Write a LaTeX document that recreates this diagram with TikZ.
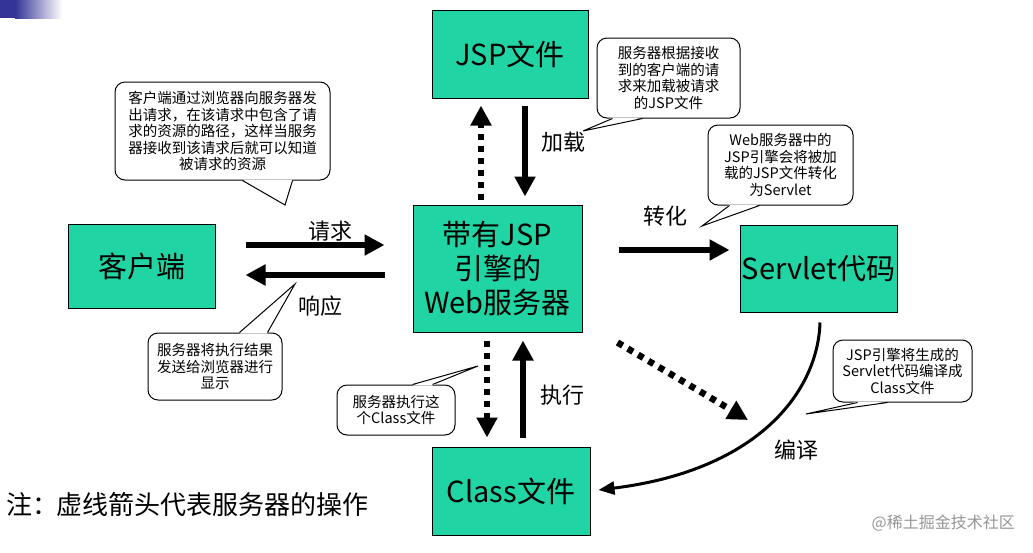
\documentclass[tikz,border=0pt]{standalone}
\usepackage{fontspec}
\setmainfont{Noto Sans CJK SC}
\usetikzlibrary{arrows.meta,calc}
\definecolor{boxgreen}{RGB}{33,212,163}
\definecolor{barblue}{RGB}{52,52,150}
\definecolor{wmgray}{RGB}{150,150,150}
\begin{document}
\begin{tikzpicture}[x=1pt,y=-1pt,
  box/.style={draw=black, line width=1pt, fill=boxgreen, align=center,
    font=\fontsize{29}{34}\selectfont, inner sep=0pt},
  note/.style={draw=black, line width=1pt, fill=white, rounded corners=10pt,
    align=center, font=\fontsize{14.5}{16.5}\selectfont, inner sep=0pt},
  lbl/.style={font=\fontsize{22}{26}\selectfont, inner sep=0pt},
  bigarrow/.style={line width=6.5pt, -{Triangle[length=20pt,width=20pt]}},
  dotarrow/.style={bigarrow, dash pattern=on 6pt off 6pt},
  thinarrow/.style={line width=3pt, -{Triangle[length=16pt,width=13pt]}},
  ptr/.style={draw=black, line width=1pt}
]
\useasboundingbox (0,0) rectangle (1033,552);
\fill[white] (0,0) rectangle (1033,552);
% top-left bar
\fill[barblue] (0,0) rectangle (15,18);
\shade[left color=barblue, right color=white] (15,0) rectangle (62,18);

% boxes
\node[box, minimum width=156pt, minimum height=88pt] (jsp) at (510,54) {JSP文件};
\node[box, minimum width=147pt, minimum height=84pt] (client) at (141.5,266) {客户端};
\node[box, minimum width=169pt, minimum height=127pt] (server) at (497.5,268.5) {带有JSP\\引擎的\\Web服务器};
\node[box, minimum width=157pt, minimum height=87pt] (servlet) at (818.5,268.5) {Servlet代码};
\node[box, minimum width=158pt, minimum height=88pt] (class) at (511,491) {Class文件};

% arrows
\draw[bigarrow] ([shift={(30,-21)}]client.east) -- ([shift={(-28,-23.5)}]server.west);
\draw[bigarrow] ([shift={(-28,6.5)}]server.west) -- ([shift={(30,9)}]client.east);
\draw[dotarrow] ([shift={(-16.5,-5)}]server.north) -- ([shift={(-29,7)}]jsp.south);
\draw[bigarrow] ([shift={(15,7)}]jsp.south) -- ([shift={(27.5,-8)}]server.north);
\draw[bigarrow] ([shift={(36,-18.5)}]server.east) -- ([shift={(-10,-18.5)}]servlet.west);
\draw[dotarrow] ([shift={(-10.5,8)}]server.south) -- ([shift={(-24,-9)}]class.north);
\draw[bigarrow] ([shift={(12,-9)}]class.north) -- ([shift={(25.5,8)}]server.south);
\coordinate (diagend) at (748,420);
\draw[dotarrow] ([shift={(35,10)}]server.south east) -- (diagend);
\draw[thinarrow] ([shift={(1.5,10)}]servlet.south) .. controls (818,390) and (760,470) .. ([shift={(8,-1)}]class.east);

% labels
\node[lbl] (lq) at (330,231) {请求};
\node[lbl] (lx) at (320,306) {响应};
\node[lbl] (lj) at (563,142) {加载};
\node[lbl] (lz) at (665,216) {转化};
\node[lbl] (le) at (562,395) {执行};
\node[lbl] (lb) at (796,450) {编译};

% callouts
\node[note, minimum width=215pt, minimum height=98pt] (c1) at (222.5,131)
  {客户端通过浏览器向服务器发\\出请求，在该请求中包含了请\\求的资源的路径，这样当服务\\器接收到该请求后就可以知道\\被请求的资源};
\coordinate (t1) at (285,205);
\fill[white] ($(c1.south west)+(128,-1)$) -- (t1) -- ($(c1.south west)+(178,-1)$) -- cycle;
\draw[ptr] ($(c1.south west)+(128,0)$) -- (t1) -- ($(c1.south west)+(178,0)$);

\node[note, minimum width=143pt, minimum height=80pt] (c2) at (668.5,78)
  {服务器根据接收\\到的客户端的请\\求来加载被请求\\的JSP文件};
\coordinate (t2) at (583,131);
\fill[white] ($(c2.south west)+(16,-1)$) -- (t2) -- ($(c2.south west)+(46,-1)$) -- cycle;
\draw[ptr] ($(c2.south west)+(16,0)$) -- (t2) -- ($(c2.south west)+(46,0)$);

\node[note, minimum width=145pt, minimum height=80pt] (c3) at (780.5,165)
  {Web服务器中的\\JSP引擎会将被加\\载的JSP文件转化\\为Servlet};
\coordinate (t3) at (702,226);
\fill[white] ($(c3.south west)+(22,-1)$) -- (t3) -- ($(c3.south west)+(52,-1)$) -- cycle;
\draw[ptr] ($(c3.south west)+(22,0)$) -- (t3) -- ($(c3.south west)+(52,0)$);

\node[note, minimum width=134pt, minimum height=67pt] (c4) at (215,366.5)
  {服务器将执行结果\\发送给浏览器进行\\显示};
\coordinate (t4) at (295,284);
\fill[white] ($(c4.north west)+(92,1)$) -- (t4) -- ($(c4.north west)+(120,1)$) -- cycle;
\draw[ptr] ($(c4.north west)+(92,0)$) -- (t4) -- ($(c4.north west)+(120,0)$);

\node[note, minimum width=118pt, minimum height=50pt] (c5) at (396,410)
  {服务器执行这\\个Class文件};
\coordinate (t5) at (478,366);
\fill[white] ($(c5.north west)+(76,1)$) -- (t5) -- ($(c5.north west)+(96,1)$) -- cycle;
\draw[ptr] ($(c5.north west)+(76,0)$) -- (t5) -- ($(c5.north west)+(96,0)$);

\node[note, minimum width=139pt, minimum height=62pt] (c6) at (902.5,371)
  {JSP引擎将生成的\\Servlet代码编译成\\Class文件};
\coordinate (t6) at (806,414);
\fill[white] ($(c6.south west)+(25,-1)$) -- (t6) -- ($(c6.south west)+(55,-1)$) -- cycle;
\draw[ptr] ($(c6.south west)+(25,0)$) -- (t6) -- ($(c6.south west)+(55,0)$);

% note and watermark
\node[anchor=west, inner sep=0pt, font=\fontsize{26}{30}\selectfont] (footnote) at (6,505) {注：\hspace{-2pt}虚线箭头代表服务器的操作};
\node[anchor=east, inner sep=0pt, text=wmgray, font=\fontsize{16}{20}\selectfont] (wm) at (1015,523) {@稀土掘金技术社区};
\end{tikzpicture}
\end{document}
